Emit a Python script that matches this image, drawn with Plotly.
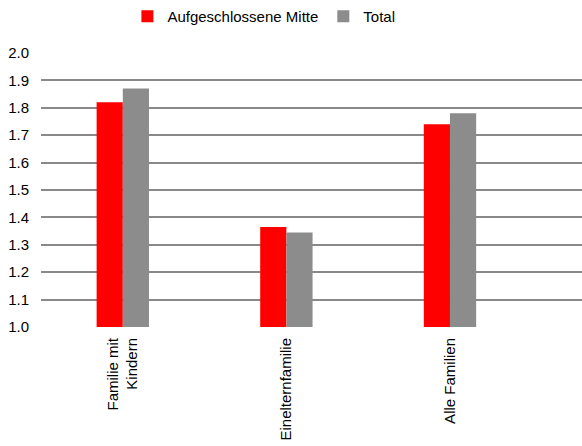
import plotly.graph_objects as go

# Categories and series values
categories = ["Familie mit<br>Kindern", "Einelternfamilie", "Alle Familien"]
mitte = [1.82, 1.365, 1.74]
total = [1.87, 1.345, 1.78]
y_ticks = [1.0, 1.1, 1.2, 1.3, 1.4, 1.5, 1.6, 1.7, 1.8, 1.9, 2.0]

fig = go.Figure()
fig.add_trace(go.Bar(x=categories, y=mitte, name="Aufgeschlossene Mitte",
                     marker=dict(color="#ff0000", line=dict(width=0))))
fig.add_trace(go.Bar(x=categories, y=total, name="Total",
                     marker=dict(color="#8c8c8c", line=dict(width=0))))

fig.update_layout(
    width=582, height=446,
    margin=dict(l=41, r=0, t=53, b=119),
    paper_bgcolor="white", plot_bgcolor="white",
    barmode="group", bargap=0.68, bargroupgap=0,
    font=dict(family="Liberation Sans, Arial, sans-serif", size=15, color="#000000"),
    showlegend=True,
    legend=dict(orientation="h", x=0.412, xanchor="center", y=1.0, yanchor="top",
                yref="container", font=dict(size=15), itemwidth=30,
                tracegroupgap=0, traceorder="normal"),
    xaxis=dict(type="category", range=[-0.5, 2.807], tickangle=-90,
               showgrid=False, showline=False, ticks="", ticklen=0,
               tickfont=dict(size=15), ticklabelstandoff=7),
    yaxis=dict(range=[1.0, 2.0], tickvals=y_ticks,
               ticktext=[f"{v:.1f}" for v in y_ticks],
               showgrid=True, gridcolor="#898989", gridwidth=2,
               zeroline=False, showline=False, ticks="", ticklabelstandoff=11,
               tickfont=dict(size=15)),
)

fig.write_html("out.html")
